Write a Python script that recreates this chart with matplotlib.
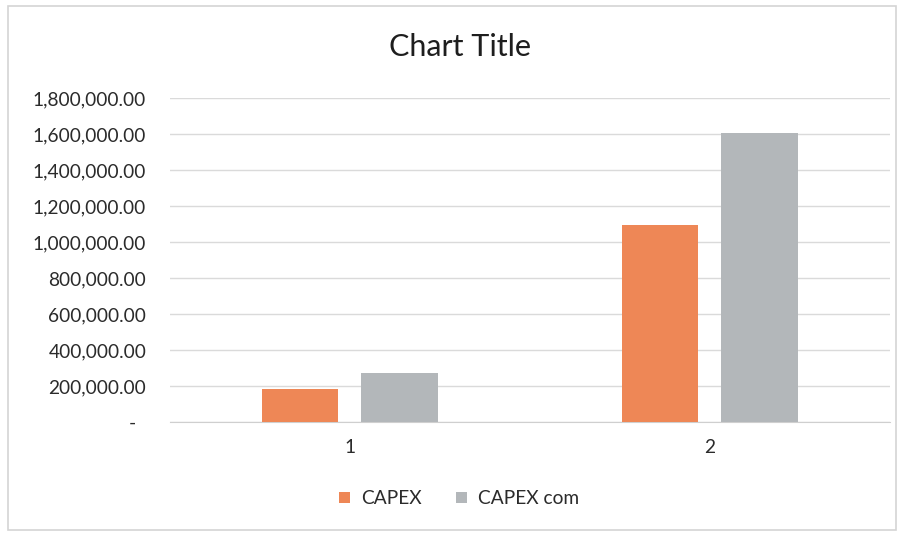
import matplotlib
matplotlib.use("Agg")
import matplotlib.pyplot as plt
import numpy as np
from matplotlib.ticker import FuncFormatter, MultipleLocator
from matplotlib.patches import Rectangle

categories = ["1", "2"]
capex = [182000, 1093000]
capex_com = [270000, 1608000]
series_names = ["CAPEX", "CAPEX com"]
colors = ["#EE8756", "#B3B7BA"]

plt.rcParams["font.family"] = ["Lato", "DejaVu Sans"]

fig = plt.figure(figsize=(9.08, 5.34), dpi=100)
fig.patch.set_facecolor("white")

# chart frame
fig.patches.append(Rectangle((0.009, 0.008), 0.978, 0.98, transform=fig.transFigure,
                             fill=False, edgecolor="#D4D4D4", linewidth=1.2))

ax = fig.add_axes([0.187, 0.210, 0.793, 0.606])
x = np.arange(1, len(categories) + 1)
w = 0.213
off = 0.138
ax.bar(x - off, capex, width=w, color=colors[0], label=series_names[0], zorder=3)
ax.bar(x + off, capex_com, width=w, color=colors[1], label=series_names[1], zorder=3)

ax.set_xlim(0.5, 2.5)
ax.set_ylim(0, 1800000)
ax.yaxis.set_major_locator(MultipleLocator(200000))
ax.yaxis.set_major_formatter(FuncFormatter(lambda v, p: f"{v:,.2f}" if v > 0 else "-  "))
ax.set_xticks(x)
ax.set_xticklabels(categories)
ax.grid(axis="y", color="#DADADA", linewidth=1.0, zorder=0)
for s in ["top", "right", "left"]:
    ax.spines[s].set_visible(False)
ax.spines["bottom"].set_color("#CFCFCF")
ax.tick_params(axis="y", length=0, pad=17, labelsize=13.8, labelcolor="#2B2B2B")
ax.tick_params(axis="x", length=0, pad=12, labelsize=13.8, labelcolor="#2B2B2B")

fig.text(0.507, 0.912, "Chart Title", ha="center", va="center", fontsize=22, color="#1E1E1E")

handles, labels = ax.get_legend_handles_labels()
fig.legend(handles, labels, loc="center", bbox_to_anchor=(0.506, 0.066), ncol=2,
           frameon=False, fontsize=13.8, handlelength=0.55, handleheight=0.55,
           handletextpad=0.6, columnspacing=1.8, labelcolor="#2B2B2B")

fig.savefig("out.png", dpi=100, facecolor="white")
